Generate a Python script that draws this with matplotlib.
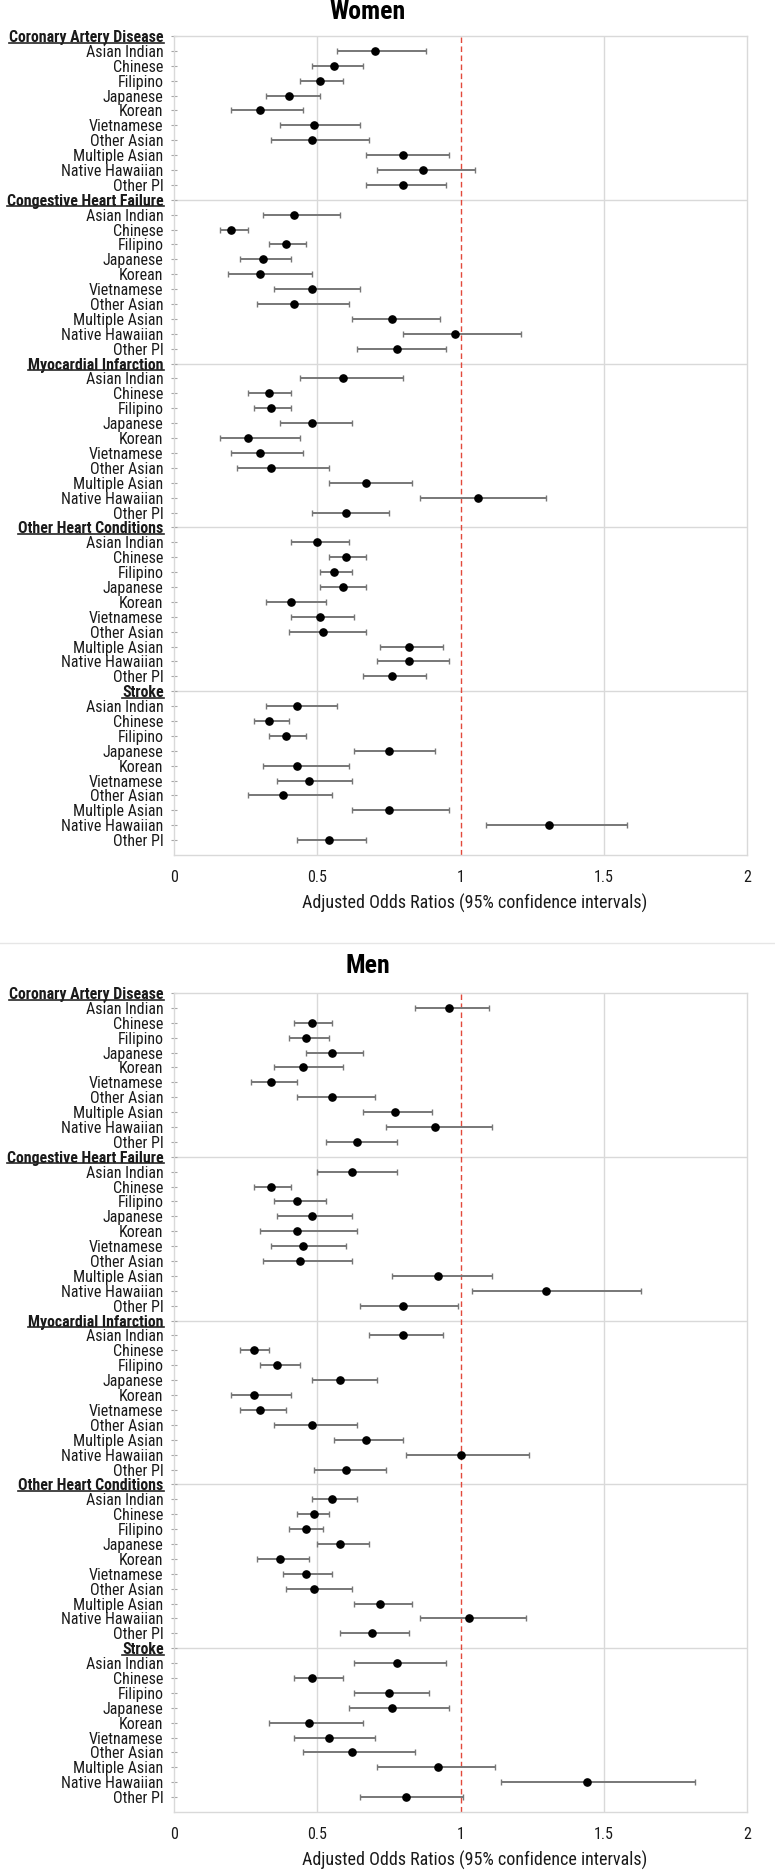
import matplotlib
matplotlib.use("Agg")
import matplotlib.pyplot as plt
from matplotlib import font_manager
from matplotlib.lines import Line2D

# narrow-ish humanist sans to stand in for Calibri
installed = set(f.name for f in font_manager.fontManager.ttflist)
FONT = 'DejaVu Sans'
for cand in ['Roboto Condensed', 'Liberation Sans Narrow', 'Open Sans Condensed', 'Lato', 'Roboto']:
    if cand in installed:
        FONT = cand
        break
plt.rcParams['font.family'] = [FONT, 'DejaVu Sans']

conditions = ['Coronary Artery Disease', 'Congestive Heart Failure', 'Myocardial Infarction',
              'Other Heart Conditions', 'Stroke']
groups = ['Asian Indian', 'Chinese', 'Filipino', 'Japanese', 'Korean', 'Vietnamese',
          'Other Asian', 'Multiple Asian', 'Native Hawaiian', 'Other PI']
xticks = [0, 0.5, 1, 1.5, 2]
xtick_labels = ['0', '0.5', '1', '1.5', '2']

# women: odds ratio, lower and upper CI (one row per condition)
women_or = [[0.70, 0.56, 0.51, 0.40, 0.30, 0.49, 0.48, 0.80, 0.87, 0.80],
            [0.42, 0.20, 0.39, 0.31, 0.30, 0.48, 0.42, 0.76, 0.98, 0.78],
            [0.59, 0.33, 0.34, 0.48, 0.26, 0.30, 0.34, 0.67, 1.06, 0.60],
            [0.50, 0.60, 0.56, 0.59, 0.41, 0.51, 0.52, 0.82, 0.82, 0.76],
            [0.43, 0.33, 0.39, 0.75, 0.43, 0.47, 0.38, 0.75, 1.31, 0.54]]
women_lo = [[0.57, 0.48, 0.44, 0.32, 0.20, 0.37, 0.34, 0.67, 0.71, 0.67],
            [0.31, 0.16, 0.33, 0.23, 0.19, 0.35, 0.29, 0.62, 0.80, 0.64],
            [0.44, 0.26, 0.28, 0.37, 0.16, 0.20, 0.22, 0.54, 0.86, 0.48],
            [0.41, 0.54, 0.51, 0.51, 0.32, 0.41, 0.40, 0.72, 0.71, 0.66],
            [0.32, 0.28, 0.33, 0.63, 0.31, 0.36, 0.26, 0.62, 1.09, 0.43]]
women_hi = [[0.88, 0.66, 0.59, 0.51, 0.45, 0.65, 0.68, 0.96, 1.05, 0.95],
            [0.58, 0.26, 0.46, 0.41, 0.48, 0.65, 0.61, 0.93, 1.21, 0.95],
            [0.80, 0.41, 0.41, 0.62, 0.44, 0.45, 0.54, 0.83, 1.30, 0.75],
            [0.61, 0.67, 0.62, 0.67, 0.53, 0.63, 0.67, 0.94, 0.96, 0.88],
            [0.57, 0.40, 0.46, 0.91, 0.61, 0.62, 0.55, 0.96, 1.58, 0.67]]

# men
men_or = [[0.96, 0.48, 0.46, 0.55, 0.45, 0.34, 0.55, 0.77, 0.91, 0.64],
          [0.62, 0.34, 0.43, 0.48, 0.43, 0.45, 0.44, 0.92, 1.30, 0.80],
          [0.80, 0.28, 0.36, 0.58, 0.28, 0.30, 0.48, 0.67, 1.00, 0.60],
          [0.55, 0.49, 0.46, 0.58, 0.37, 0.46, 0.49, 0.72, 1.03, 0.69],
          [0.78, 0.48, 0.75, 0.76, 0.47, 0.54, 0.62, 0.92, 1.44, 0.81]]
men_lo = [[0.84, 0.42, 0.40, 0.46, 0.35, 0.27, 0.43, 0.66, 0.74, 0.53],
          [0.50, 0.28, 0.35, 0.36, 0.30, 0.34, 0.31, 0.76, 1.04, 0.65],
          [0.68, 0.23, 0.30, 0.48, 0.20, 0.23, 0.35, 0.56, 0.81, 0.49],
          [0.48, 0.43, 0.40, 0.50, 0.29, 0.38, 0.39, 0.63, 0.86, 0.58],
          [0.63, 0.42, 0.63, 0.61, 0.33, 0.42, 0.45, 0.71, 1.14, 0.65]]
men_hi = [[1.10, 0.55, 0.54, 0.66, 0.59, 0.43, 0.70, 0.90, 1.11, 0.78],
          [0.78, 0.41, 0.53, 0.62, 0.64, 0.60, 0.62, 1.11, 1.63, 0.99],
          [0.94, 0.33, 0.44, 0.71, 0.41, 0.39, 0.64, 0.80, 1.24, 0.74],
          [0.64, 0.54, 0.52, 0.68, 0.47, 0.55, 0.62, 0.83, 1.23, 0.82],
          [0.95, 0.59, 0.89, 0.96, 0.66, 0.70, 0.84, 1.12, 1.82, 1.01]]

W, H = 775, 1871
GRID = '#d9d9d9'

fig = plt.figure(figsize=(W / 100, H / 100), dpi=100)
renderer = fig.canvas.get_renderer()


def fit_size(text, target_px, weight='normal'):
    # pick a font size so that the text is about target_px wide
    t = fig.text(0, 0, text, fontsize=10, fontweight=weight)
    w = t.get_window_extent(renderer).width
    t.remove()
    return 10 * target_px / w


HEADER_SIZE = fit_size('Coronary Artery Disease', 155, 'bold')
LABEL_SIZE = fit_size('Native Hawaiian', 102)
TITLE_SIZE = fit_size('Women', 76, 'bold')
XLAB_SIZE = fit_size('Adjusted Odds Ratios (95% confidence intervals)', 344)


def px_rect(left, top, right, bottom):
    return [left / W, 1 - bottom / H, (right - left) / W, (bottom - top) / H]


def draw_panel(ax, ors, los, his):
    n = len(groups) + 1
    labels, ypos = [], []
    for g, cond in enumerate(conditions):
        labels.append(cond)
        ypos.append(g * n)
        for i, name in enumerate(groups):
            y = g * n + 1 + i
            labels.append(name)
            ypos.append(y)
            x = ors[g][i]
            ax.errorbar(x, y, xerr=[[x - los[g][i]], [his[g][i] - x]], fmt='o',
                        color='black', markersize=5.2, ecolor='#777777',
                        elinewidth=1.4, capsize=2.3, capthick=1.0, zorder=3)
        if g > 0:
            ax.axhline(g * n, color=GRID, linewidth=1.0, zorder=0)
    ax.axvline(1, color='#e2493b', linewidth=1.0, linestyle=(0, (4, 2.5)), zorder=2)
    for xv in [0.5, 1.5]:
        ax.axvline(xv, color=GRID, linewidth=1.0, zorder=0)
    ax.set_xlim(0, 2)
    ax.set_ylim(n * len(conditions), 0)
    ax.set_yticks(ypos)
    ax.set_yticklabels(labels, fontsize=LABEL_SIZE, color='#1a1a1a')
    ax.set_xticks(xticks)
    ax.set_xticklabels(xtick_labels, fontsize=LABEL_SIZE, color='#1a1a1a')
    ax.tick_params(axis='x', length=0, pad=11)
    ax.tick_params(axis='y', length=4, direction='inout', color='#a6a6a6', pad=5.5)
    for sp in ax.spines.values():
        sp.set_color(GRID)
        sp.set_linewidth(1.0)
    headers = []
    for lab in ax.get_yticklabels():
        if lab.get_text() in conditions:
            lab.set_fontweight('bold')
            lab.set_fontsize(HEADER_SIZE)
            headers.append(lab)
    return headers


ax_w = fig.add_axes(px_rect(174, 36, 747, 855))
ax_m = fig.add_axes(px_rect(174, 993, 747, 1812))
hdr = draw_panel(ax_w, women_or, women_lo, women_hi)
hdr += draw_panel(ax_m, men_or, men_lo, men_hi)

fig.text(368 / W, 1 - 12 / H, 'Women', ha='center', va='center', fontsize=TITLE_SIZE, fontweight='bold')
fig.text(368 / W, 1 - 966 / H, 'Men', ha='center', va='center', fontsize=TITLE_SIZE, fontweight='bold')
fig.text(475 / W, 1 - 903 / H, 'Adjusted Odds Ratios (95% confidence intervals)',
         ha='center', va='center', fontsize=XLAB_SIZE, color='#1a1a1a')
fig.text(475 / W, 1 - 1860 / H, 'Adjusted Odds Ratios (95% confidence intervals)',
         ha='center', va='center', fontsize=XLAB_SIZE, color='#1a1a1a')

# thin separator between the two charts
fig.add_artist(Line2D([0, 1], [1 - 943 / H, 1 - 943 / H], color='#e6e6e6', linewidth=1.0,
                      transform=fig.transFigure))

# underline the condition headers
fig.canvas.draw()
for lab in hdr:
    bb = lab.get_window_extent(renderer)
    yy = (bb.y0 + 2.5) / H
    fig.add_artist(Line2D([bb.x0 / W, bb.x1 / W], [yy, yy], color='#262626', linewidth=1.2,
                          transform=fig.transFigure))

fig.savefig('out.png', dpi=100, facecolor='white')
